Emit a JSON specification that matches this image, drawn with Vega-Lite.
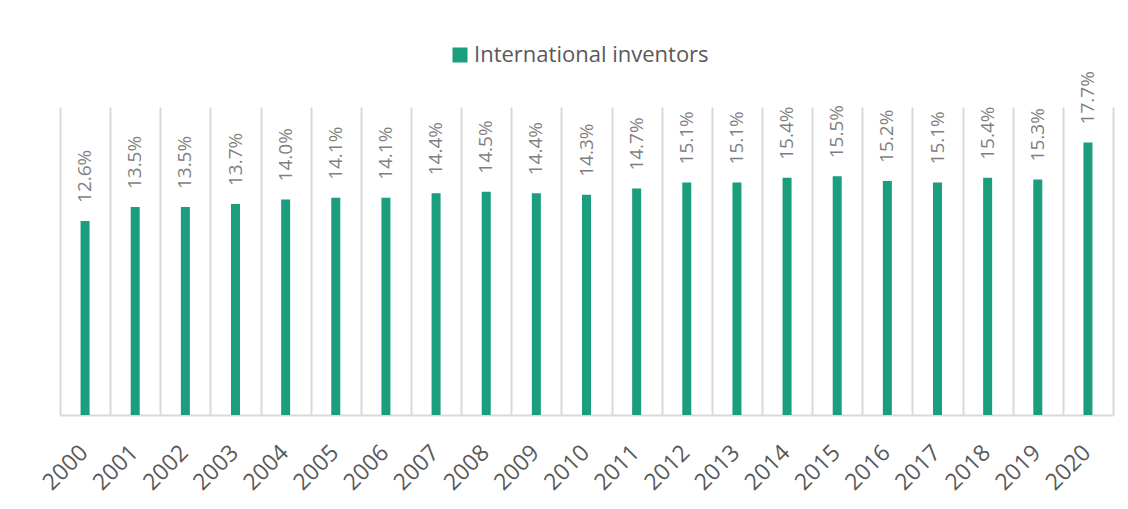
{
  "$schema": "https://vega.github.io/schema/vega-lite/v6.json",
  "autosize": "none",
  "width": 1053,
  "height": 308,
  "padding": {"left": 60, "top": 107, "right": 15, "bottom": 94},
  "background": "white",
  "config": {
    "view": {"stroke": null},
    "font": "Open Sans"
  },
  "data": {
    "values": [
      {"year": "2000", "share": 0.126},
      {"year": "2001", "share": 0.135},
      {"year": "2002", "share": 0.135},
      {"year": "2003", "share": 0.137},
      {"year": "2004", "share": 0.140},
      {"year": "2005", "share": 0.141},
      {"year": "2006", "share": 0.141},
      {"year": "2007", "share": 0.144},
      {"year": "2008", "share": 0.145},
      {"year": "2009", "share": 0.144},
      {"year": "2010", "share": 0.143},
      {"year": "2011", "share": 0.147},
      {"year": "2012", "share": 0.151},
      {"year": "2013", "share": 0.151},
      {"year": "2014", "share": 0.154},
      {"year": "2015", "share": 0.155},
      {"year": "2016", "share": 0.152},
      {"year": "2017", "share": 0.151},
      {"year": "2018", "share": 0.154},
      {"year": "2019", "share": 0.153},
      {"year": "2020", "share": 0.177}
    ]
  },
  "encoding": {
    "x": {
      "field": "year",
      "type": "ordinal",
      "scale": {"paddingInner": 0, "paddingOuter": 0},
      "axis": {
        "title": null,
        "tickBand": "extent",
        "grid": true,
        "gridColor": "#d9d9d9",
        "gridWidth": 2,
        "ticks": false,
        "domainColor": "#d9d9d9",
        "domainWidth": 2,
        "labelAngle": -45,
        "labelAlign": "right",
        "labelBaseline": "top",
        "labelPadding": 26,
        "labelOffset": -9,
        "labelFontSize": 23,
        "labelColor": "#595959"
      }
    },
    "y": {
      "field": "share",
      "type": "quantitative",
      "scale": {"domain": [0, 0.2]},
      "axis": null
    }
  },
  "layer": [
    {
      "mark": {"type": "bar", "width": 9},
      "encoding": {
        "color": {
          "datum": "International inventors",
          "type": "nominal",
          "scale": {"range": ["#1a9e7e"]},
          "legend": {
            "title": null,
            "orient": "none",
            "legendX": 389,
            "legendY": -63,
            "symbolType": "square",
            "symbolSize": 225,
            "symbolStrokeWidth": 0,
            "labelFontSize": 22,
            "labelLimit": 400,
            "labelColor": "#595959",
            "labelOffset": 3
          }
        }
      }
    },
    {
      "mark": {
        "type": "text",
        "angle": 270,
        "align": "left",
        "baseline": "middle",
        "dx": 18,
        "fontSize": 19,
        "color": "#7f7f7f"
      },
      "encoding": {
        "text": {"field": "share", "type": "quantitative", "format": ".1%"}
      }
    }
  ]
}
